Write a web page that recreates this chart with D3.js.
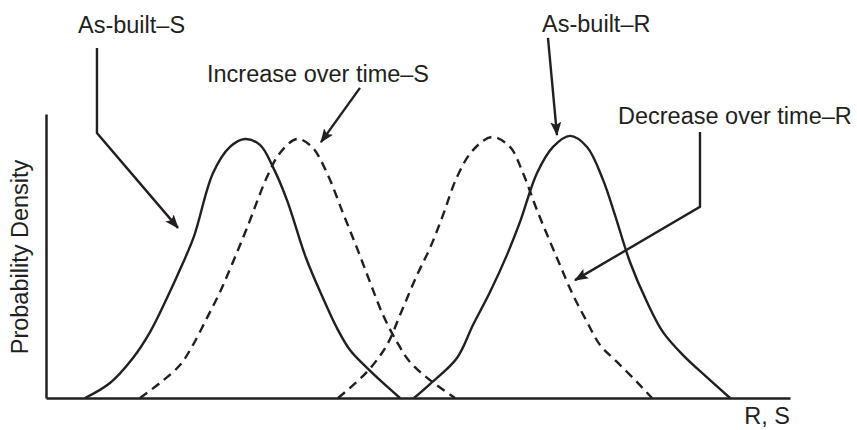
<!DOCTYPE html>
<html>
<head>
<meta charset="utf-8">
<script src="https://cdn.jsdelivr.net/npm/d3@7"></script>
<style>
  body{margin:0;background:#fff}
  text{font-family:"Liberation Sans",Arial,Helvetica,sans-serif;font-size:23.5px;fill:#231f20}
</style>
</head>
<body>
<svg id="chart" width="857" height="430"></svg>
<script>
// curves: [R/S value, probability density]
const asBuiltS = [[5.24,0],[8.6,0.053],[11.69,0.141],[13.98,0.232],[16.26,0.352],[18.28,0.468],[19.9,0.57],[22.45,0.792],[24.73,0.884],[26.75,0.912],[28.76,0.891],[30.51,0.813],[32.39,0.697],[34.95,0.493],[37.23,0.352],[39.11,0.246],[40.86,0.169],[43.15,0.106],[45.3,0.053],[47.58,0]]
const increaseS = [[12.63,0],[15.32,0.053],[18.01,0.116],[19.76,0.187],[21.64,0.282],[23.39,0.373],[25.13,0.479],[27.02,0.599],[29.7,0.778],[31.45,0.863],[33.74,0.912],[35.75,0.884],[37.77,0.792],[39.92,0.651],[41.8,0.528],[43.55,0.408],[45.3,0.292],[47.18,0.197],[48.92,0.127],[51.61,0.063],[54.97,0]]
const decreaseR = [[39.25,0],[43.15,0.092],[45.83,0.187],[47.58,0.292],[49.87,0.433],[51.61,0.528],[53.36,0.644],[55.24,0.778],[57.39,0.873],[59.95,0.919],[62.37,0.884],[64.11,0.792],[65.99,0.662],[68.68,0.493],[70.83,0.363],[72.72,0.268],[74.46,0.187],[76.75,0.127],[79.44,0.056],[81.45,0]]
const asBuiltR = [[49.46,0],[51.61,0.049],[55.24,0.141],[57.39,0.257],[59.68,0.373],[61.96,0.504],[63.71,0.62],[66.0,0.792],[68.15,0.884],[70.43,0.923],[72.72,0.884],[74.87,0.768],[76.48,0.644],[78.49,0.479],[80.78,0.338],[82.93,0.232],[85.62,0.151],[88.7,0.076],[91.94,0]]

const seriesNames = ["As-built\u2013S","Increase over time\u2013S","Decrease over time\u2013R","As-built\u2013R"]
const seriesDashed = [false,true,true,false]

// labels: text start + leader polyline (last point gets the arrow), in data units
const labelPos = [[4.3,1.285],[21.64,1.113],[76.88,0.965],[66.67,1.289]]
const leaders = [
  [[6.85,1.232],[6.85,0.933],[17.74,0.599]],
  [[42.2,1.092],[36.96,0.901]],
  [[87.9,0.937],[87.9,0.673],[71.1,0.415]],
  [[67.47,1.268],[68.68,0.926]]
]
const xTitle = "R, S"
const yTitle = "Probability Density"

const ink = "#231f20"
const svg = d3.select("#chart")

let x = d3.scaleLinear().domain([0,100]).range([46,790])
let y = d3.scaleLinear().domain([0,1]).range([398,114])

svg.append("defs").append("marker")
  .attr("id","arrow")
  .attr("viewBox","0 -6 14 12")
  .attr("refX",13).attr("refY",0)
  .attr("markerWidth",14).attr("markerHeight",12)
  .attr("markerUnits","userSpaceOnUse")
  .attr("orient","auto")
  .append("path")
  .attr("d","M0,-5.5L14,0L0,5.5L3,0Z")
  .attr("fill",ink)

// axes, no ticks
svg.append("g").attr("transform",`translate(0,${y(0)})`)
  .call(d3.axisBottom(x).ticks(0).tickSizeOuter(0))
  .select(".domain").attr("stroke",ink).attr("stroke-width",2.5)
svg.append("g").attr("transform",`translate(${x(0)},0)`)
  .call(d3.axisLeft(y).ticks(0).tickSizeOuter(0))
  .select(".domain").attr("stroke",ink).attr("stroke-width",2.5)

svg.append("text").attr("x",x(100)).attr("y",424).attr("text-anchor","end").text(xTitle)
svg.append("text").attr("transform",`translate(28,${(y(0)+y(1))/2+1}) rotate(-90)`)
  .attr("text-anchor","middle").text(yTitle)

const line = d3.line().x(d=>x(d[0])).y(d=>y(d[1])).curve(d3.curveCatmullRom.alpha(0.5))
const allSeries = [asBuiltS,increaseS,decreaseR,asBuiltR]

allSeries.forEach((s,i)=>{
  svg.append("path").datum(s)
    .attr("d",line)
    .attr("fill","none")
    .attr("stroke",ink)
    .attr("stroke-width",2.4)
    .attr("stroke-dasharray",seriesDashed[i]?"9,6":null)
})

// labels and leader arrows
const leaderLine = d3.line().x(d=>x(d[0])).y(d=>y(d[1]))
seriesNames.forEach((name,i)=>{
  svg.append("text").attr("x",x(labelPos[i][0])).attr("y",y(labelPos[i][1])).text(name)
  svg.append("path").datum(leaders[i])
    .attr("d",leaderLine)
    .attr("fill","none")
    .attr("stroke",ink)
    .attr("stroke-width",2.4)
    .attr("marker-end","url(#arrow)")
})
</script>
</body>
</html>
